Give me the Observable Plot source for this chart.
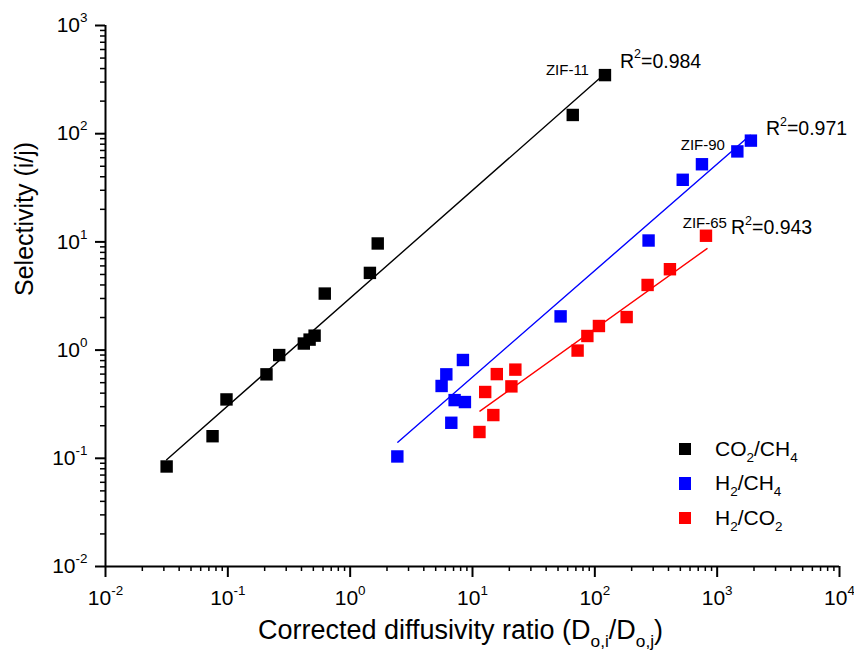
<!DOCTYPE html>
<html>
<head>
<meta charset="utf-8">
<script src="https://cdn.jsdelivr.net/npm/d3@7"></script>
<script src="https://cdn.jsdelivr.net/npm/@observablehq/plot@0.6"></script>
<style>
  body { margin: 0; background: white; font-family: "Liberation Sans", Arial, sans-serif; }
  #wrap { position: relative; width: 854px; height: 664px; }
  #legend { position: absolute; left: 678.5px; top: 431.5px; font-size: 21px; color: #000; }
  #legend .row { display: flex; align-items: center; height: 34.5px; white-space: nowrap; }
  #legend .sw { width: 12.5px; height: 12.5px; margin-right: 24px; }
  #legend sub { font-size: 13.5px; vertical-align: -6px; line-height: 0; }
</style>
</head>
<body>
<div id="wrap">
  <div id="chart"></div>
  <div id="legend"></div>
</div>
<script>
// ---- data ----
const seriesNames = ["CO2/CH4", "H2/CH4", "H2/CO2"];
const seriesLabels = ["CO<sub>2</sub>/CH<sub>4</sub>", "H<sub>2</sub>/CH<sub>4</sub>", "H<sub>2</sub>/CO<sub>2</sub>"];
const seriesColors = ["#000000", "#0000ff", "#ff0000"];

const co2ch4X = [0.0316, 0.075, 0.0975, 0.207, 0.263, 0.418, 0.466, 0.512, 0.62, 1.45, 1.68, 66, 121];
const co2ch4Y = [0.084, 0.16, 0.35, 0.597, 0.90, 1.15, 1.25, 1.36, 3.33, 5.17, 9.67, 149, 348];
const h2ch4X = [2.43, 5.59, 6.11, 6.71, 7.14, 8.35, 8.67, 52.5, 275, 523, 751, 1462, 1887];
const h2ch4Y = [0.104, 0.466, 0.597, 0.213, 0.345, 0.81, 0.331, 2.05, 10.3, 37.5, 52.2, 68.6, 86.3];
const h2co2X = [11.4, 12.7, 14.8, 15.8, 20.8, 22.4, 72.3, 86.9, 108, 182, 270, 411, 810];
const h2co2Y = [0.175, 0.41, 0.251, 0.60, 0.462, 0.66, 0.99, 1.35, 1.67, 2.02, 4.0, 5.59, 11.4];

// fitted lines (end points)
const fitCo2ch4X = [0.0316, 112.6], fitCo2ch4Y = [0.097, 334];
const fitH2ch4X = [2.45, 1862], fitH2ch4Y = [0.141, 96.8];
const fitH2co2X = [11.5, 826], fitH2co2Y = [0.273, 8.67];

const zifLabels = ["ZIF-11", "ZIF-90", "ZIF-65"];
const r2Values = ["0.984", "0.971", "0.943"];

const xMajor = [1e-2, 1e-1, 1e0, 1e1, 1e2, 1e3, 1e4];
const yMajor = [1e-2, 1e-1, 1e0, 1e1, 1e2, 1e3];

// ---- build tables ----
const allX = [co2ch4X, h2ch4X, h2co2X];
const allY = [co2ch4Y, h2ch4Y, h2co2Y];
const fitX = [fitCo2ch4X, fitH2ch4X, fitH2co2X];
const fitY = [fitCo2ch4Y, fitH2ch4Y, fitH2co2Y];

const points = [];
allX.forEach((xs, s) => xs.forEach((x, i) => points.push({s: seriesNames[s], x, y: allY[s][i]})));
const fits = [];
fitX.forEach((xs, s) => xs.forEach((x, i) => fits.push({s: seriesNames[s], x, y: fitY[s][i]})));
const lastPts = allX.map((xs, s) => ({s: seriesNames[s], x: xs[xs.length - 1], y: allY[s][allY[s].length - 1], zif: zifLabels[s], r2: "R^{2}=" + r2Values[s]}));

function minorTicks(lo, hi) {
  const out = [];
  for (let e = lo; e < hi; e++) for (let k = 2; k <= 9; k++) out.push(k * Math.pow(10, e));
  return out;
}
const xMinor = minorTicks(-2, 4);
const yMinor = minorTicks(-2, 3);

const color = {domain: seriesNames, range: seriesColors};
const supFmt = d => `10^{${Math.round(Math.log10(d))}}`;

const zifOffsets = [{dx: -16, dy: -5}, {dx: -26, dy: 5}, {dx: 21, dy: -12.5}];
const r2Offsets = [{dx: 15, dy: -13.7}, {dx: 15, dy: -11.7}, {dx: 25, dy: -7.7}];

const chart = Plot.plot({
  width: 854,
  height: 664,
  marginLeft: 105,
  marginRight: 15,
  marginTop: 25,
  marginBottom: 98,
  style: {fontFamily: '"Liberation Sans", Arial, sans-serif', background: "white", color: "black"},
  x: {type: "log", domain: [1e-2, 1e4]},
  y: {type: "log", domain: [1e-2, 1e3]},
  color,
  marks: [
    Plot.axisX(xMinor, {tickSize: 5, tickFormat: () => "", label: null, strokeWidth: 1.5}),
    Plot.axisY(yMinor, {tickSize: 5, tickFormat: () => "", label: null, strokeWidth: 1.5}),
    Plot.axisX(xMajor, {tickSize: 11, tickPadding: 13, tickFormat: supFmt, fontSize: 21, label: null, strokeWidth: 2}),
    Plot.axisY(yMajor, {tickSize: 10, tickPadding: 8, tickFormat: supFmt, fontSize: 21, label: null, strokeWidth: 2}),
    Plot.ruleX([1e-2], {strokeWidth: 2}),
    Plot.ruleY([1e-2], {strokeWidth: 2}),
    Plot.line(fits, {x: "x", y: "y", z: "s", stroke: "s", strokeWidth: 1.4}),
    Plot.dot(points, {x: "x", y: "y", fill: "s", symbol: "square", r: 7, stroke: null}),
    ...lastPts.map((p, i) => Plot.text([p], {x: "x", y: "y", text: "zif", fontSize: 15, textAnchor: "end", dx: zifOffsets[i].dx, dy: zifOffsets[i].dy})),
    ...lastPts.map((p, i) => Plot.text([p], {x: "x", y: "y", text: "r2", fontSize: 19.5, textAnchor: "start", dx: r2Offsets[i].dx, dy: r2Offsets[i].dy})),
    Plot.text(["Corrected diffusivity ratio (D_{o,i}/D_{o,j})"], {frameAnchor: "bottom", dx: -12, dy: 72, fontSize: 27}),
    Plot.text(["Selectivity (i/j)"], {frameAnchor: "left", rotate: -90, dx: -81, fontSize: 25})
  ]
});
document.getElementById("chart").appendChild(chart);

// rich text: ^{...} superscript, _{...} subscript
function richify(el) {
  const txt = el.textContent;
  if (!/[\^_]\{/.test(txt)) return;
  const fs = parseFloat(getComputedStyle(el).fontSize) || 16;
  while (el.firstChild) el.removeChild(el.firstChild);
  const re = /(\^|_)\{([^}]*)\}/g;
  let last = 0, m, shift = 0;
  const ns = "http://www.w3.org/2000/svg";
  const add = (str, off, small) => {
    const t = document.createElementNS(ns, "tspan");
    t.textContent = str;
    const d = off - shift;
    if (d !== 0) t.setAttribute("dy", d);
    shift = off;
    if (small) t.setAttribute("font-size", fs * 0.64);
    el.appendChild(t);
  };
  while ((m = re.exec(txt))) {
    if (m.index > last) add(txt.slice(last, m.index), 0, false);
    add(m[2], m[1] === "^" ? -0.48 * fs : 0.3 * fs, true);
    last = re.lastIndex;
  }
  if (last < txt.length) add(txt.slice(last), 0, false);
}
chart.querySelectorAll("text").forEach(richify);

// legend
const legend = d3.select("#legend");
seriesNames.forEach((n, i) => {
  const row = legend.append("div").attr("class", "row");
  row.append("div").attr("class", "sw").style("background", seriesColors[i]);
  row.append("span").html(seriesLabels[i]);
});
</script>
</body>
</html>
